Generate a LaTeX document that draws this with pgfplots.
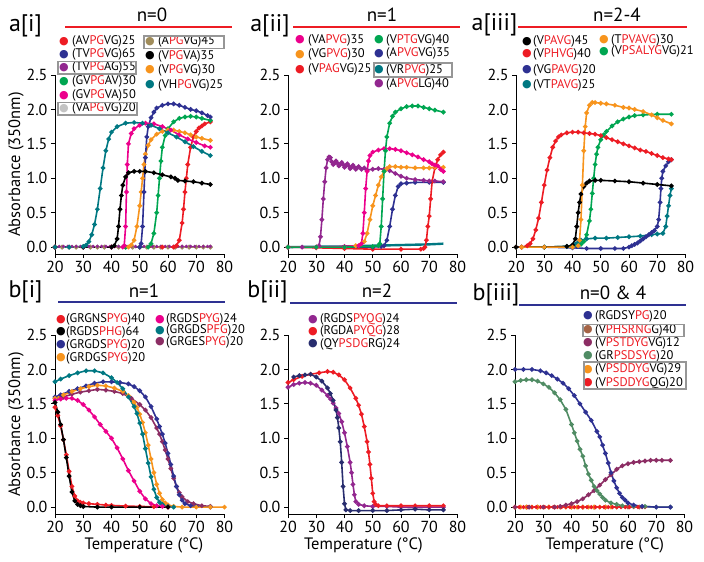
\documentclass[border=0pt]{standalone}
\usepackage{fontspec}
\setmainfont{PT Sans}
\newfontfamily\dejavu{DejaVu Sans}
\usepackage{pgfplots}
\pgfplotsset{compat=1.18}
\definecolor{cred}{RGB}{237,28,36}
\definecolor{cnavy}{RGB}{46,49,146}
\definecolor{cdnavy}{RGB}{40,45,110}
\definecolor{cpurple}{RGB}{146,39,143}
\definecolor{cgreen}{RGB}{0,166,81}
\definecolor{cmag}{RGB}{236,0,140}
\definecolor{cgray}{RGB}{195,195,195}
\definecolor{colive}{RGB}{160,140,90}
\definecolor{corange}{RGB}{247,148,29}
\definecolor{cteal}{RGB}{0,120,130}
\definecolor{cplum}{RGB}{140,45,100}
\definecolor{cgg}{RGB}{80,140,100}
\definecolor{cbrown}{RGB}{165,100,70}
\definecolor{boxgray}{RGB}{150,150,150}
\newcommand\R[1]{\textcolor{cred}{#1}}
\newcommand\LI[5]{\node[text=#4,inner sep=0] at (#1,#3) {\dejavu\fontsize{11}{11}\selectfont ●};
  \node[anchor=west,inner sep=0,font=\fontsize{12.5}{12.5}\selectfont] at (#2,#3) {#5};}
\pgfplotsset{
  panel/.style={
    scale only axis, width=169.5pt, height=179pt,
    xmin=20, xmax=80, ymin=-0.1, ymax=2.5,
    axis x line*=bottom, axis y line*=left,
    xtick={20,30,...,80}, ytick={0,0.5,...,2.5},
    tick align=outside, major tick length=4pt,
    every tick/.style={black, line width=0.9pt},
    axis line style={line width=0.9pt},
    yticklabel style={/pgf/number format/fixed,/pgf/number format/fixed zerofill,/pgf/number format/precision=1},
    tick label style={font=\fontsize{16}{16}\selectfont},
    /pgf/number format/assume math mode=true,
    label style={font=\fontsize{16.5}{16.5}\selectfont},
    ylabel style={at={(axis description cs:-0.23,0.5)}, anchor=center},
    clip=false,
    every axis plot/.append style={line width=1.6pt, mark=*, mark size=1.45pt},
  }
}
\begin{document}
\begin{tikzpicture}[x=1pt,y=1pt]
\useasboundingbox (0,0) rectangle (704,562);
% ---------------- titles
\node[font=\fontsize{24}{24}\selectfont] at (25.5,536) {a[i]};
\node[font=\fontsize{24}{24}\selectfont] at (270,536) {a[ii]};
\node[font=\fontsize{24}{24}\selectfont] at (494.5,537) {a[iii]};
\node[font=\fontsize{24}{24}\selectfont] at (25.5,270) {b[i]};
\node[font=\fontsize{24}{24}\selectfont] at (267.5,270) {b[ii]};
\node[font=\fontsize{24}{24}\selectfont] at (496,267) {b[iii]};
\node[font=\fontsize{19}{19}\selectfont] at (152,547) {n=0};
\node[font=\fontsize{19}{19}\selectfont] at (382,547) {n=1};
\node[font=\fontsize{19}{19}\selectfont] at (617,547) {n=2-4};
\node[font=\fontsize{19}{19}\selectfont] at (144,271) {n=1};
\node[font=\fontsize{19}{19}\selectfont] at (377,271) {n=2};
\node[font=\fontsize{19}{19}\selectfont] at (613,269) {n=0 \& 4};
\draw[cred, line width=1.8pt] (65,535.3) -- (232,535.3);
\draw[cred, line width=1.8pt] (293,535.3) -- (460,535.3);
\draw[cred, line width=1.8pt] (518,535.3) -- (687,535.3);
\draw[cnavy, line width=1.8pt] (58,259.7) -- (225,259.7);
\draw[cnavy, line width=1.8pt] (290,259) -- (457,259);
\draw[cnavy, line width=1.8pt] (519,257) -- (686,257);
% ---------------- legends
\LI{64}{72}{520.3}{cred}{(AV\R{PG}VG)25}
\LI{64}{72}{507.5}{cnavy}{(TV\R{PG}VG)65}
\LI{64}{72}{494.3}{cpurple}{(TV\R{PG}AG)55}
\LI{64}{72}{480.5}{cgreen}{(GV\R{PG}AV)30}
\LI{64}{72}{466.5}{cmag}{(GV\R{PG}VA)50}
\LI{64}{72}{453.5}{cgray}{(VA\R{PG}VG)20}
\LI{150}{158}{520.3}{colive}{(A\R{PG}VG)45}
\LI{150}{158}{506}{black}{(V\R{PG}VA)35}
\LI{150}{158}{492}{corange}{(V\R{PG}VG)30}
\LI{150}{158}{477}{cteal}{(VH\R{PG}VG)25}
\draw[boxgray, line width=1.1pt] (144,513.7) rectangle (224,526);
\draw[boxgray, line width=1.1pt] (58,488) rectangle (136,500.3);
\draw[boxgray, line width=1.1pt] (58,447) rectangle (137,459.5);
\LI{300}{308}{522}{cmag}{(VA\R{PVG})35}
\LI{300}{308}{507.7}{corange}{(VG\R{PVG})30}
\LI{300}{308}{492.7}{cred}{(V\R{PAG}VG)25}
\LI{379}{386}{522}{cgreen}{(V\R{PTG}VG)40}
\LI{379}{386}{508.7}{cnavy}{(A\R{PVG}VG)35}
\LI{379}{386}{492}{cteal}{(VR\R{PVG})25}
\LI{379}{386}{478}{cpurple}{(A\R{PVG}LG)40}
\draw[boxgray, line width=1.1pt] (374,485) rectangle (452,499);
\LI{527}{533}{520.3}{black}{(V\R{PAVG})45}
\LI{527}{533}{508}{cred}{(V\R{PHVG})40}
\LI{527}{533}{492}{cnavy}{(VG\R{PAVG})20}
\LI{527}{533}{477}{cteal}{(VT\R{PAVG})25}
\LI{604}{611}{522}{corange}{(T\R{PVAVG})30}
\LI{604}{611}{510.3}{cgreen}{(V\R{PSALYG}VG)21}
\LI{61}{66}{242.5}{cred}{(GRGNS\R{PYG})40}
\LI{61}{66}{230}{black}{(RGDS\R{PHG})64}
\LI{61}{66}{217}{cnavy}{(GRGDS\R{PYG})20}
\LI{61}{66}{204}{corange}{(GRDGS\R{PYG})20}
\LI{160}{166}{242.7}{cmag}{(RGDS\R{PYG})24}
\LI{160}{166}{231.5}{cteal}{(GRGDS\R{PFG})20}
\LI{160}{166}{220}{cplum}{(GRGES\R{PYG})20}
\LI{313}{320}{242.7}{cpurple}{(RGDS\R{PYQG})24}
\LI{313}{320}{230.3}{cred}{(RGDA\R{PYQG})28}
\LI{313}{320}{218}{cdnavy}{(QY\R{PSDG}RG)24}
\LI{588}{595}{246}{cnavy}{(RGDSY\R{PG})20}
\LI{588}{595}{232}{cbrown}{(V\R{PHSRNG}G)40}
\LI{588}{595}{219}{cplum}{(V\R{PSTDYG}VG)12}
\LI{588}{595}{206}{cgg}{(GR\R{PSDSYG})20}
\LI{588}{595}{192.5}{corange}{(V\R{PSDDYG}VG)29}
\LI{588}{595}{179}{cred}{(V\R{PSDDYG}QG)20}
\draw[boxgray, line width=1.1pt] (583,225.3) rectangle (684,237.5);
\draw[boxgray, line width=1.1pt] (584,173) rectangle (686,200);
% ================= a[i]
\begin{axis}[panel, at={(55pt,308pt)}, anchor=south west, ylabel={Absorbance (350nm)}]
\addplot[cgray] coordinates {(20,0)(22.5,0)(25,0)(27.5,0)(30,0)(32.5,0)(35,0)(37.5,0)(40,0)(42.5,0)(45,0)(47.5,0)(50,0)(52.5,0)(55,0)(57.5,0)(60,0)(62.5,0)(65,0)(67.5,0)(70,0)(72.5,0)(75,0)};
\addplot[colive] coordinates {(20,0)(22.5,0)(25,0)(27.5,0)(30,0)(32.5,0)(35,0)(37.5,0)(40,0)(42.5,0)(45,0)(47.5,0)(50,0)(52.5,0)(55,0)(57.5,0)(60,0)(62.5,0)(65,0)(67.5,0)(70,0)(72.5,0)(75,0)};
\addplot[cpurple, line width=0.9pt, mark size=1.2pt] coordinates {(20,0.01)(21.5,0.01)(23,0.01)(24.5,0.01)(26,0.01)(27.5,0.01)(29,0.01)(30.5,0.01)(32,0.01)(33.5,0.01)(35,0.01)(36.5,0.01)(38,0.01)(39.5,0.01)(41,0.01)(42.5,0.01)(44,0.01)(45.5,0.01)(47,0.01)(48.5,0.01)(50,0.01)(51.5,0.01)(53,0.01)(54.5,0.01)(56,0.01)(57.5,0.01)(59,0.01)(60.5,0.01)(62,0.01)(63.5,0.01)(65,0.01)(66.5,0.01)(68,0.01)(69.5,0.01)(71,0.01)(72.5,0.01)(74,0.01)(75,0.01)};
\addplot[cred] coordinates {(20,0)(30,0)(40,0)(50,0)(58,0)(62,0)(63,0.02)(64,0.1)(65,0.35)(65.5,0.55)(66,0.8)(66.5,1.0)(67,1.2)(68,1.45)(69,1.6)(70,1.68)(71,1.73)(72,1.76)(73,1.79)(75,1.82)};
\addplot[cgreen] coordinates {(20,0)(30,0)(40,0)(45,0)(50,0)(53,0)(54,0.05)(55,0.2)(56,0.5)(56.5,0.75)(57,1.0)(57.5,1.25)(58,1.45)(59,1.62)(60,1.72)(62,1.82)(64,1.87)(66,1.89)(68,1.9)(70,1.89)(72,1.87)(75,1.84)};
\addplot[corange] coordinates {(20,0)(30,0)(40,0)(46,0)(47,0.03)(48,0.1)(49,0.3)(50,0.6)(50.5,0.8)(51,1.0)(51.5,1.2)(52,1.35)(53,1.48)(54,1.56)(56,1.64)(58,1.68)(60,1.7)(62,1.7)(64,1.68)(66,1.66)(68,1.63)(70,1.6)(72,1.58)(75,1.55)};
\addplot[cnavy] coordinates {(20,0)(30,0)(40,0)(50,0)(50.5,0.05)(51,0.3)(51.5,0.8)(52,1.3)(52.5,1.6)(53,1.75)(54,1.88)(55,1.96)(56,2.02)(58,2.06)(60,2.08)(62,2.08)(64,2.06)(66,2.03)(68,2.0)(70,1.98)(72,1.95)(74,1.91)(75,1.89)};
\addplot[cmag] coordinates {(20,0)(30,0)(40,0)(44,0)(44.5,0.02)(45,0.3)(45.3,0.8)(45.6,1.2)(46,1.5)(47,1.65)(48,1.72)(50,1.77)(52,1.8)(55,1.79)(58,1.75)(61,1.7)(64,1.63)(67,1.57)(70,1.52)(73,1.47)(75,1.45)};
\addplot[black] coordinates {(20,0)(30,0)(40,0)(41,0.02)(42,0.12)(42.5,0.3)(43,0.55)(43.5,0.75)(44,0.9)(45,1.02)(46,1.08)(48,1.1)(50,1.1)(52,1.1)(55,1.08)(58,1.05)(61,1.02)(62.5,1.0)(63.5,0.97)(66,0.96)(69,0.95)(72,0.93)(75,0.91)};
\addplot[cteal] coordinates {(20,0)(25,0)(30,0.01)(31,0.03)(32,0.08)(33,0.18)(34,0.33)(35,0.55)(36,0.85)(37,1.15)(38,1.4)(39,1.57)(40,1.67)(42,1.75)(45,1.8)(48,1.81)(51,1.8)(54,1.77)(57,1.72)(60,1.66)(63,1.6)(66,1.53)(69,1.46)(72,1.39)(75,1.33)};
\end{axis}
% ================= a[ii]
\begin{axis}[panel, at={(288pt,308pt)}, anchor=south west]
\addplot[cteal, mark=none, line width=2.4pt] coordinates {(20,0)(30,0.005)(40,0.01)(50,0.02)(60,0.03)(70,0.04)(75,0.05)};
\addplot[cred] coordinates {(20,0)(30,-0.01)(40,-0.02)(50,-0.03)(60,-0.03)(67,-0.03)(68,-0.02)(68.5,0.0)(69,0.1)(69.5,0.3)(70,0.45)(70.5,0.7)(71,0.95)(72,1.15)(73,1.27)(74,1.34)(75,1.38)};
\addplot[cnavy] coordinates {(20,0)(30,0)(40,0)(50,0)(53,0.01)(54,0.02)(55,0.1)(56,0.3)(57,0.55)(58,0.75)(59,0.88)(60,0.92)(62,0.93)(65,0.94)(70,0.94)(75,0.94)};
\addplot[cpurple] coordinates {(20,0)(25,0)(30,0)(31,0.02)(31.5,0.15)(32,0.4)(32.5,0.7)(33,0.95)(33.5,1.15)(34,1.27)(34.5,1.31)(35,1.3)(35.5,1.24)(36,1.2)(36.5,1.22)(37,1.25)(37.5,1.22)(38,1.18)(38.5,1.2)(39,1.23)(39.5,1.2)(40,1.16)(40.5,1.18)(41,1.21)(41.5,1.18)(42,1.14)(42.5,1.16)(43,1.19)(43.5,1.16)(44,1.13)(44.5,1.15)(45,1.17)(46,1.13)(47,1.15)(48,1.12)(50,1.13)(52,1.14)(54,1.13)(56,1.11)(58,1.07)(60,1.03)(62,1.0)(65,0.98)(68,0.97)(70,0.96)(72,0.96)(75,0.95)};
\addplot[corange] coordinates {(20,0)(30,0)(40,0)(44,0.02)(46,0.05)(47,0.08)(48,0.2)(49,0.4)(50,0.6)(51,0.75)(52,0.9)(53,1.02)(54,1.1)(55,1.14)(56,1.17)(58,1.17)(60,1.16)(62,1.16)(65,1.15)(68,1.15)(70,1.15)(72,1.16)(75,1.16)};
\addplot[cmag] coordinates {(20,0)(30,0)(40,0.01)(45,0.02)(46,0.05)(46.5,0.2)(47,0.5)(47.5,0.85)(48,1.1)(48.5,1.25)(49,1.33)(50,1.38)(52,1.41)(54,1.43)(56,1.43)(58,1.42)(60,1.4)(62,1.37)(64,1.34)(66,1.31)(68,1.27)(70,1.24)(71,1.21)(72,1.19)(73,1.18)(74,1.13)(75,1.1)};
\addplot[cgreen] coordinates {(20,0)(30,0)(40,0)(50,0.01)(52,0.02)(52.5,0.05)(53,0.3)(53.5,0.7)(54,1.1)(54.5,1.4)(55,1.6)(56,1.8)(57,1.9)(58,1.96)(60,2.01)(62,2.04)(64,2.05)(66,2.05)(68,2.03)(70,2.01)(72,1.99)(75,1.96)};
\end{axis}
% ================= a[iii]
\begin{axis}[panel, at={(516pt,308pt)}, anchor=south west]
\addplot[cteal] coordinates {(20,0)(30,0)(38,0.01)(40,0.02)(41,0.04)(42,0.07)(43,0.1)(45,0.12)(48,0.13)(52,0.13)(56,0.14)(60,0.15)(64,0.16)(68,0.18)(70,0.19)(72,0.2)(73,0.3)(73.5,0.45)(74,0.6)(74.5,0.75)(75,0.85)};
\addplot[cnavy] coordinates {(22,0)(30,0)(40,-0.01)(45,-0.02)(50,-0.02)(55,-0.02)(58,-0.02)(60,0.0)(61,0.02)(62,0.04)(63,0.06)(64,0.09)(65,0.12)(66,0.15)(67,0.18)(68,0.21)(69,0.24)(70,0.3)(70.5,0.4)(71,0.65)(71.3,0.85)(71.6,1.0)(72,1.1)(73,1.18)(74,1.24)(75,1.27)};
\addplot[cgreen] coordinates {(20,0)(22,0.0)(30,0)(40,0.01)(42,0.02)(43,0.04)(44,0.08)(45,0.18)(46,0.38)(46.5,0.55)(47,0.78)(47.5,1.0)(48,1.2)(48.5,1.35)(49,1.45)(50,1.56)(51,1.63)(52,1.68)(54,1.76)(56,1.82)(58,1.86)(60,1.89)(62,1.91)(65,1.92)(70,1.93)(75,1.93)};
\addplot[cred] coordinates {(20,0)(22,0)(24,0.02)(25,0.05)(26,0.12)(27,0.25)(28,0.42)(29,0.65)(30,0.9)(31,1.12)(32,1.3)(33,1.45)(34,1.54)(35,1.6)(36,1.63)(38,1.66)(40,1.67)(42,1.67)(44,1.66)(46,1.65)(48,1.64)(50,1.62)(52,1.59)(54,1.56)(56,1.53)(58,1.5)(60,1.47)(62,1.44)(64,1.41)(66,1.39)(68,1.36)(70,1.33)(72,1.3)(74,1.28)(75,1.27)};
\addplot[black] coordinates {(20,0)(30,0.0)(38,0.01)(40,0.03)(41,0.12)(41.5,0.3)(42,0.5)(42.5,0.65)(43,0.77)(44,0.88)(45,0.93)(46,0.96)(48,0.97)(50,0.97)(55,0.96)(60,0.95)(65,0.93)(70,0.91)(75,0.89)};
\addplot[corange] coordinates {(22,0)(30,0)(40,0)(42,0.02)(42.5,0.1)(43,0.4)(43.5,0.9)(44,1.4)(44.5,1.75)(45,1.95)(46,2.06)(47,2.1)(48,2.1)(50,2.09)(52,2.08)(55,2.06)(58,2.03)(60,2.02)(62,2.0)(65,1.97)(68,1.92)(70,1.88)(72,1.84)(75,1.79)};
\end{axis}
% ================= b[i]
\begin{axis}[panel, at={(55pt,48pt)}, anchor=south west, ylabel={Absorbance (350nm)}, xlabel={Temperature (°C)}, xlabel style={at={(axis description cs:0.525,-0.175)}, anchor=center}]
\addplot[cplum] coordinates {(20,1.58)(23,1.6)(26,1.64)(29,1.67)(32,1.69)(35,1.71)(38,1.7)(41,1.68)(44,1.65)(47,1.58)(50,1.49)(52,1.41)(54,1.3)(56,1.15)(57,1.06)(58,0.95)(59,0.83)(60,0.7)(61,0.56)(62,0.42)(63,0.3)(64,0.21)(65,0.15)(67,0.08)(69,0.05)(72,0.02)(75,0.01)};
\addplot[cnavy] coordinates {(20,1.6)(22,1.63)(25,1.68)(28,1.72)(31,1.76)(34,1.8)(37,1.82)(40,1.82)(43,1.81)(46,1.79)(48,1.75)(50,1.69)(52,1.6)(54,1.46)(56,1.28)(57,1.17)(58,1.06)(59,0.93)(60,0.78)(61,0.62)(62,0.45)(63,0.3)(64,0.18)(65,0.1)(66,0.05)(68,0.02)(70,0.01)(75,0)};
\addplot[corange] coordinates {(20,1.58)(23,1.63)(26,1.68)(29,1.72)(32,1.75)(35,1.77)(38,1.76)(41,1.73)(44,1.68)(46,1.62)(48,1.52)(49,1.45)(50,1.35)(51,1.23)(52,1.08)(53,0.9)(54,0.7)(55,0.5)(56,0.33)(57,0.2)(58,0.11)(59,0.06)(60,0.03)(62,0.01)(65,0)(70,0)(75,0)(80,0)};
\addplot[cteal] coordinates {(20,1.82)(22,1.86)(25,1.91)(28,1.95)(31,1.98)(34,1.98)(37,1.95)(40,1.88)(42,1.81)(44,1.72)(46,1.6)(48,1.46)(49,1.36)(50,1.22)(51,1.06)(52,0.85)(53,0.64)(54,0.44)(55,0.26)(56,0.14)(57,0.07)(58,0.04)(60,0.01)(62,0)};
\addplot[cmag] coordinates {(20,1.55)(22,1.57)(24,1.58)(26,1.58)(28,1.55)(30,1.49)(32,1.41)(34,1.31)(36,1.2)(38,1.1)(40,1.0)(42,0.86)(44,0.7)(46,0.53)(48,0.38)(50,0.23)(52,0.12)(54,0.05)(56,0.02)(58,0.01)(60,0)};
\addplot[cred] coordinates {(20,1.45)(21,1.33)(22,1.18)(23,0.98)(24,0.76)(25,0.52)(26,0.3)(27,0.16)(28,0.09)(29,0.07)(30,0.06)(32,0.05)(35,0.04)(38,0.03)(40,0.025)(45,0.015)(50,0.01)(55,0.005)(60,0)};
\addplot[black] coordinates {(20,1.52)(21,1.38)(22,1.2)(23,0.98)(24,0.72)(25,0.45)(26,0.22)(27,0.09)(28,0.04)(29,0.02)(30,0.01)(35,0.0)(40,0)(50,0)(60,0)};
\end{axis}
% ================= b[ii]
\begin{axis}[panel, at={(288pt,48pt)}, anchor=south west, xlabel={Temperature (°C)}, xlabel style={at={(axis description cs:0.445,-0.175)}, anchor=center}]
\addplot[cpurple] coordinates {(20,1.74)(22,1.78)(24,1.8)(26,1.81)(28,1.8)(30,1.77)(32,1.7)(34,1.62)(35,1.57)(36,1.51)(37,1.44)(38,1.36)(39,1.24)(40,1.08)(41,0.88)(42,0.65)(42.5,0.5)(43,0.33)(43.5,0.18)(44,0.08)(45,0.04)(47,0.02)(50,0.01)(55,0.01)(60,0.0)(65,0)(70,0)(75,0)};
\addplot[cred] coordinates {(20,1.81)(22,1.85)(25,1.9)(28,1.93)(31,1.95)(34,1.97)(36,1.96)(38,1.92)(40,1.85)(42,1.73)(44,1.58)(45,1.48)(46,1.35)(47,1.17)(48,0.95)(48.5,0.8)(49,0.62)(49.5,0.42)(50,0.2)(50.5,0.08)(51,0.04)(52,0.02)(55,0.02)(60,0.02)(65,0.02)(70,0.02)(75,0.02)};
\addplot[cdnavy] coordinates {(22,1.89)(24,1.91)(26,1.92)(28,1.93)(30,1.89)(32,1.83)(34,1.73)(35,1.65)(36,1.55)(37,1.41)(37.5,1.3)(38,1.15)(38.5,0.95)(39,0.65)(39.5,0.3)(40,0.05)(40.5,-0.04)(42,-0.05)(45,-0.05)(50,-0.05)(55,-0.05)(60,-0.04)(65,-0.03)(70,-0.04)(75,-0.04)};
\end{axis}
% ================= b[iii]
\begin{axis}[panel, at={(515pt,48pt)}, anchor=south west, xlabel={Temperature (°C)}, xlabel style={at={(axis description cs:0.53,-0.175)}, anchor=center}]
\addplot[cbrown] coordinates {(20,0)(24,0)(28,0)(32,0)(36,0)(40,0)(44,0)(48,0)(52,0)(56,0)(60,0)(64,0)};
\addplot[corange] coordinates {(20,0)(22,0)(24,0)(26,0)(28,0)(30,0)(32,0)(34,0)(36,0)(38,0)(40,0)(42,0)(44,0)(46,0)(48,0)(50,0)(52,0)(54,0)};
\addplot[cred, mark size=1.1pt] coordinates {(20,0)(21.5,0)(23,0)(24.5,0)(26,0)(27.5,0)(29,0)(30.5,0)(32,0)(33.5,0)(35,0)(36.5,0)(38,0)(39.5,0)(41,0)(42.5,0)(44,0)(45.5,0)(47,0)(48.5,0)(50,0)(51.5,0)(53,0)(54.5,0)(56,0)(57.5,0)(59,0)(60.5,0)(62,0)(63.5,0)(65,0)(66,0)};
\addplot[cplum] coordinates {(20,0)(25,0)(30,0)(34,0)(36,0.01)(38,0.03)(40,0.05)(42,0.08)(44,0.12)(46,0.18)(48,0.24)(50,0.32)(52,0.4)(54,0.47)(56,0.55)(58,0.6)(60,0.63)(62,0.65)(64,0.66)(66,0.67)(68,0.68)(70,0.68)(72,0.68)(75,0.68)};
\addplot[cgg] coordinates {(20,1.82)(22,1.84)(24,1.85)(26,1.85)(28,1.83)(30,1.79)(32,1.74)(34,1.66)(36,1.56)(38,1.42)(40,1.2)(41,1.08)(42,0.96)(43,0.84)(44,0.74)(45,0.6)(46,0.48)(47,0.39)(48,0.3)(49,0.24)(50,0.19)(51,0.14)(52,0.1)(54,0.06)(56,0.04)(58,0.02)(62,0.01)(66,0.01)(70,0)(75,0)};
\addplot[cnavy] coordinates {(20,2.0)(23,2.0)(26,2.0)(29,1.98)(31,1.95)(33,1.91)(35,1.86)(37,1.8)(39,1.72)(41,1.62)(43,1.5)(45,1.38)(47,1.26)(49,1.1)(50,1.02)(51,0.9)(52,0.78)(53,0.64)(54,0.5)(55,0.38)(56,0.28)(57,0.2)(58,0.14)(59,0.1)(60,0.06)(62,0.03)(65,0.01)(70,0)(75,0)};
\end{axis}
\end{tikzpicture}
\end{document}
